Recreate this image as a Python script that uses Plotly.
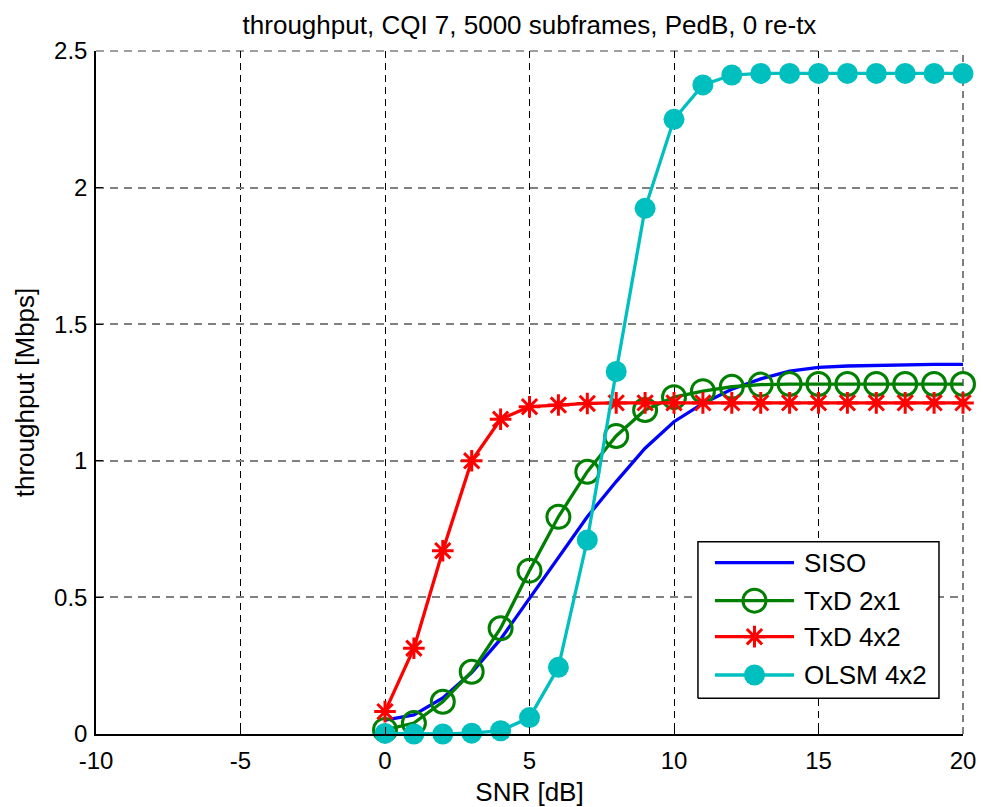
import plotly.graph_objects as go

# SNR sweep in dB and measured throughput (Mbps) for each transmission scheme
snr_db = list(range(0, 21))
siso = [0.051, 0.070, 0.132, 0.225, 0.347, 0.497, 0.649, 0.795, 0.924, 1.046, 1.143,
        1.210, 1.262, 1.300, 1.328, 1.342, 1.347, 1.350, 1.352, 1.353, 1.353]
txd_2x1 = [0.015, 0.040, 0.118, 0.228, 0.387, 0.598, 0.795, 0.960, 1.091, 1.186, 1.233,
           1.255, 1.271, 1.279, 1.281, 1.281, 1.281, 1.281, 1.281, 1.281, 1.281]
txd_4x2 = [0.082, 0.314, 0.671, 1.000, 1.152, 1.198, 1.204, 1.210, 1.212, 1.212, 1.212,
           1.212, 1.212, 1.212, 1.212, 1.212, 1.212, 1.212, 1.212, 1.212, 1.212]
olsm_4x2 = [0.002, 0.000, 0.000, 0.003, 0.012, 0.060, 0.244, 0.710, 1.327, 1.924, 2.250,
            2.376, 2.412, 2.418, 2.418, 2.418, 2.418, 2.418, 2.418, 2.418, 2.418]

x_ticks = [-10, -5, 0, 5, 10, 15, 20]
y_ticks = [0, 0.5, 1, 1.5, 2, 2.5]

FONT = "Liberation Sans, Arial, Helvetica, sans-serif"
BLUE, GREEN, RED, CYAN = "#0000FF", "#008000", "#FF0000", "#00BFBF"
LINE_W = 3.3

series = [
    dict(name="SISO", y=siso, color=BLUE, symbol=None, size=0),
    dict(name="TxD 2x1", y=txd_2x1, color=GREEN, symbol="circle-open", size=23),
    dict(name="TxD 4x2", y=txd_4x2, color=RED, symbol="asterisk-open", size=18),
    dict(name="OLSM 4x2", y=olsm_4x2, color=CYAN, symbol="circle", size=21),
]


def marker_style(s):
    if s["symbol"] is None:
        return None
    if s["symbol"] == "circle":
        return dict(symbol="circle", size=s["size"], color=s["color"], line=dict(width=0))
    return dict(symbol=s["symbol"], size=s["size"], color=s["color"],
                line=dict(width=3, color=s["color"]))


fig = go.Figure()

# Dashed grid lines along the upper and right limits of the axes
fig.add_shape(type="line", xref="x domain", yref="y domain", x0=0, x1=1, y0=1, y1=1,
              line=dict(color="#808080", width=1.5, dash="8px,6px"), layer="below")
fig.add_shape(type="line", xref="x domain", yref="y domain", x0=1, x1=1, y0=0, y1=1,
              line=dict(color="black", width=1, dash="7px,5px"), layer="below")

for s in series:
    m = marker_style(s)
    fig.add_trace(go.Scatter(
        x=snr_db, y=s["y"], name=s["name"],
        mode="lines" if m is None else "lines+markers",
        line=dict(color=s["color"], width=LINE_W),
        marker=m, showlegend=False, cliponaxis=False,
    ))

# Boxed legend in the lower right, laid out in plot-area fractions
LEG_X0, LEG_X1, LEG_Y0, LEG_Y1 = 0.6943, 0.9723, 0.0523, 0.2816
SAMPLE_X0, SAMPLE_X1, TEXT_X = 0.7139, 0.8051, 0.8147
ROW_Y = [0.2508, 0.1952, 0.1425, 0.0864]

fig.add_trace(go.Scatter(
    x=[LEG_X0, LEG_X1, LEG_X1, LEG_X0, LEG_X0], y=[LEG_Y0, LEG_Y0, LEG_Y1, LEG_Y1, LEG_Y0],
    mode="lines", fill="toself", fillcolor="white", line=dict(color="black", width=1.5),
    xaxis="x2", yaxis="y2", showlegend=False, hoverinfo="skip"))
for s, ry in zip(series, ROW_Y):
    fig.add_trace(go.Scatter(
        x=[SAMPLE_X0, SAMPLE_X1], y=[ry, ry], mode="lines",
        line=dict(color=s["color"], width=LINE_W), xaxis="x2", yaxis="y2",
        showlegend=False, hoverinfo="skip"))
    m = marker_style(s)
    if m is not None:
        fig.add_trace(go.Scatter(
            x=[(SAMPLE_X0 + SAMPLE_X1) / 2], y=[ry], mode="markers", marker=m,
            xaxis="x2", yaxis="y2", showlegend=False, hoverinfo="skip"))
    fig.add_annotation(text=s["name"], xref="x domain", yref="y domain",
                       x=TEXT_X, y=ry, xanchor="left", yanchor="middle",
                       showarrow=False, font=dict(family=FONT, size=26, color="black"))

fig.update_layout(
    width=983, height=807,
    margin=dict(l=96, r=20, t=51, b=73, autoexpand=False),
    paper_bgcolor="white", plot_bgcolor="white",
    font=dict(family=FONT, size=24, color="black"),
    title=dict(text="throughput, CQI 7, 5000 subframes, PedB, 0 re-tx",
               x=0.5, xanchor="center", xref="paper",
               y=1 - 25 / 807, yref="container", yanchor="middle",
               font=dict(family=FONT, size=26, color="black")),
    xaxis=dict(range=[-10, 20], tickvals=x_ticks, ticktext=[str(v) for v in x_ticks],
               showline=True, linecolor="black", linewidth=1.5, mirror=False,
               ticks="inside", ticklen=7, tickcolor="black", tickwidth=1,
               ticklabelstandoff=4, automargin=False,
               showgrid=True, gridcolor="black", gridwidth=1, griddash="7px,5px",
               zeroline=False, fixedrange=True,
               title=dict(text="SNR [dB]", font=dict(family=FONT, size=26), standoff=12)),
    yaxis=dict(range=[0, 2.5], tickvals=y_ticks, ticktext=["0", "0.5", "1", "1.5", "2", "2.5"],
               showline=True, linecolor="black", linewidth=1.5, mirror=False,
               ticks="inside", ticklen=7, tickcolor="black", tickwidth=1,
               ticklabelstandoff=2, automargin=False,
               showgrid=True, gridcolor="#808080", gridwidth=1.5, griddash="8px,6px",
               zeroline=False, fixedrange=True,
               title=dict(text="throughput [Mbps]", font=dict(family=FONT, size=26), standoff=12)),
    xaxis2=dict(overlaying="x", range=[0, 1], visible=False, fixedrange=True),
    yaxis2=dict(overlaying="y", range=[0, 1], visible=False, fixedrange=True),
    showlegend=False,
)

fig.write_html("out.html")
